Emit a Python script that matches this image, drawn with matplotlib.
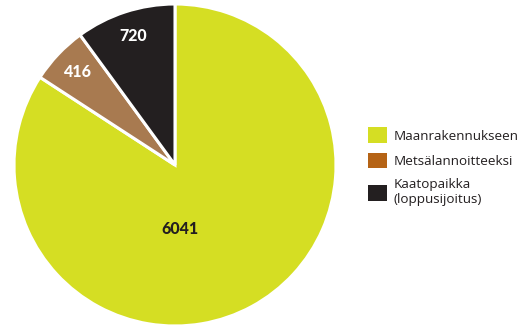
import numpy as np
import matplotlib
matplotlib.use("Agg")
import matplotlib.pyplot as plt
from matplotlib.patches import Patch

# data
labels = ["Maanrakennukseen", "Metsälannoitteeksi", "Kaatopaikka\n(loppusijoitus)"]
values = [6041, 416, 720]
pie_colors = ["#d5de23", "#a87a50", "#231f20"]
legend_colors = ["#d5de23", "#b56315", "#231f20"]
label_colors = ["#231f20", "white", "white"]

plt.rcParams['font.family'] = ['Lato', 'DejaVu Sans']

fig = plt.figure(figsize=(5.2, 3.26), dpi=100)
ax = fig.add_axes([14/520, 0/326, 322/520, 322/326])

wedges, _ = ax.pie(values, colors=pie_colors, startangle=90, counterclock=False,
                   wedgeprops=dict(edgecolor="white", linewidth=2.2))
ax.set_xlim(-1, 1)
ax.set_ylim(-1, 1)
ax.set_aspect("equal")

# value labels
for i, (w, v) in enumerate(zip(wedges, values)):
    if i == 0:
        x, y = 0.03, -0.4
    else:
        ang = np.deg2rad((w.theta1 + w.theta2) / 2)
        x, y = 0.84 * np.cos(ang), 0.84 * np.sin(ang)
    ax.text(x, y, str(v), ha="center", va="center", fontsize=11.5,
            fontweight="black", color=label_colors[i])

handles = [Patch(facecolor=c, edgecolor="none") for c in legend_colors]
fig.legend(handles, labels, loc="center left", bbox_to_anchor=(364/520, 0.488),
           frameon=False, handlelength=1.4, handleheight=1.4,
           handletextpad=0.5, labelspacing=0.74, labelcolor="#231f20",
           borderpad=0.3, borderaxespad=0,
           prop=dict(family=["Open Sans", "DejaVu Sans"], size=9.7))

fig.savefig("out.png", dpi=100)
